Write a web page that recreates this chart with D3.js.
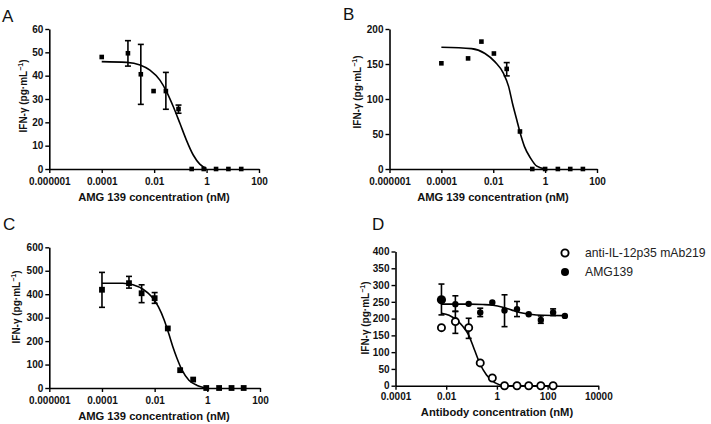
<!DOCTYPE html>
<html><head><meta charset="utf-8">
<script src="https://cdn.jsdelivr.net/npm/d3@7"></script>
<style>
body{margin:0;background:#fff}
svg{display:block}
text{font-family:"Liberation Sans",Arial,sans-serif}
</style>
</head><body>
<svg id="c" width="711" height="424"></svg>
<script>
// ---------------- data ----------------
const amgTicks = [1e-6, 1e-4, 1e-2, 1, 100];
const amgTickLabels = ["0.000001", "0.0001", "0.01", "1", "100"];
const abTicks = [1e-4, 1e-2, 1, 100, 1e4];
const abTickLabels = ["0.0001", "0.01", "1", "100", "10000"];

// Panel A
const concA = [0.0001, 0.001, 0.0031, 0.0095, 0.028, 0.085, 0.27, 0.78, 2.3, 6.8, 21];
const ifnA  = [48, 49.6, 40.6, 33.4, 33.4, 25.7, 0, 0, 0, 0, 0];
const errLoA = [null, 44.1, 27.7, null, 25.6, 23.9, null, null, null, null, null];
const errHiA = [null, 55.0, 53.4, null, 41.4, 27.4, null, null, null, null, null];
const fitXA = [0.0001, 0.00089, 0.0029, 0.0069, 0.0166, 0.030, 0.054, 0.096, 0.17, 0.31, 0.55, 1.0];
const fitYA = [46, 45.7, 44.6, 42.4, 38.1, 33.1, 26.7, 19.6, 12.4, 6.0, 2.1, 0.2];

// Panel B
const concB = [0.0001, 0.00107, 0.0035, 0.0106, 0.033, 0.107, 0.32, 1.0, 3.1, 9.3, 28.6];
const ifnB  = [151, 158, 182, 165, 143, 53.6, 0, 0, 0, 0, 0];
const errLoB = [null, null, null, null, 133, null, null, null, null, null, null];
const errHiB = [null, null, null, null, 152, null, null, null, null, null, null];
const fitXB = [0.0001, 0.00145, 0.0048, 0.0117, 0.0245, 0.039, 0.055, 0.081, 0.11, 0.16, 0.27, 0.48, 1.0];
const fitYB = [174, 172, 165, 153, 137, 118, 94, 70, 51, 32, 16, 4, 0];

// Panel C
const concC = [0.0001, 0.00106, 0.0032, 0.01, 0.0316, 0.093, 0.29, 0.91, 2.8, 8.3, 24];
const ifnC  = [419, 447, 404, 383, 254, 76, 36, 0, 0, 0, 0];
const errLoC = [344, 426, 364, 361, null, null, null, null, null, null, null];
const errHiC = [493, 476, 440, 407, null, null, null, null, null, null, null];
const fitXC = [0.0001, 0.00062, 0.0015, 0.0036, 0.0076, 0.0138, 0.023, 0.034, 0.049, 0.071, 0.11, 0.20, 0.41, 0.87];
const fitYC = [447, 447, 440, 421, 390, 347, 290, 233, 176, 126, 76, 33, 11, 0];

// Panel D
const concD = [0.0065, 0.023, 0.077, 0.22, 0.66, 2.0, 6.2, 18, 54, 165, 480];
const mab219 = [173, 191, 173, 68, 23, 0, 0, 0, 0, 0];
const errLoMab = [null, 156, 141, null, null, null, null, null, null, null];
const errHiMab = [null, 222, 201, null, null, null, null, null, null, null];
const amg139 = [256, 243, 244, 218, 248, 224, 228, 213, 196, 218, 208];
const errLoAmg = [211, 221, null, 206, null, 176, 206, null, 186, 209, null];
const errHiAmg = [303, 268, null, 231, null, 271, 251, null, 208, 229, null];
const fitXMab = [0.0065, 0.013, 0.025, 0.045, 0.077, 0.13, 0.21, 0.39, 0.82, 2.0, 165];
const fitYMab = [216, 210, 196, 177, 151, 107, 67, 32, 9, 0, 0];
const fitXAmg = [0.0065, 0.077, 0.28, 0.7, 1.7, 3.7, 7.9, 20, 66, 480];
const fitYAmg = [243, 243, 242, 240, 234, 226, 218, 213, 210, 209];

const legendNames = ["anti-IL-12p35 mAb219", "AMG139"];

// ---------------- drawing ----------------
const svg = d3.select("#c");
const BOLD = "bold";

function makeAxes(g, x, y, cfg) {
  const xa = d3.axisBottom(x).tickValues(cfg.xTicks)
    .tickFormat((d, i) => cfg.xTickLabels[i]).tickSize(4).tickSizeOuter(0).tickPadding(cfg.xPad);
  const ya = d3.axisLeft(y).tickValues(cfg.yTicks).tickSize(4).tickSizeOuter(0).tickPadding(2)
    .tickFormat(d3.format("d"));
  const gx = g.append("g").attr("transform", `translate(0,${y(0)})`).call(xa);
  const gy = g.append("g").attr("transform", `translate(${x.range()[0]},0)`).call(ya);
  [gx, gy].forEach(a => {
    a.select(".domain").attr("stroke", "#000").attr("stroke-width", 1.6);
    a.selectAll(".tick line").attr("stroke", "#000").attr("stroke-width", 1.4);
    a.selectAll(".tick text").attr("fill", "#111").attr("font-size", 10).attr("font-weight", BOLD)
      .attr("font-family", '"Liberation Sans",Arial,sans-serif');
  });
  g.append("text").attr("x", cfg.xTitleX).attr("y", cfg.xTitleY)
    .attr("text-anchor", "middle").attr("font-size", 11.2).attr("font-weight", BOLD).attr("fill", "#111")
    .text(cfg.xTitle);
  const yt = g.append("text")
    .attr("transform", `translate(${cfg.yTitleX},${cfg.yTitleY}) rotate(-90)`)
    .attr("text-anchor", "middle").attr("font-size", 10).attr("font-weight", BOLD).attr("fill", "#111");
  yt.append("tspan").text("IFN-γ (pg·mL");
  yt.append("tspan").attr("dy", -4).attr("font-size", 7).text("−1");
  yt.append("tspan").attr("dy", 4).text(")");
  svg.append("text").attr("x", cfg.letterX).attr("y", cfg.letterY)
    .attr("font-family", '"Open Sans","Noto Sans",sans-serif').attr("font-size", 17).attr("fill", "#111")
    .text(cfg.letter);
}

function errorBars(g, x, y, xs, lo, hi, cap) {
  xs.forEach((c, i) => {
    if (lo[i] == null) return;
    const px = x(c);
    g.append("line").attr("x1", px).attr("x2", px).attr("y1", y(lo[i])).attr("y2", y(hi[i]))
      .attr("stroke", "#000").attr("stroke-width", 1.6);
    [lo[i], hi[i]].forEach(v => g.append("line").attr("x1", px - cap).attr("x2", px + cap)
      .attr("y1", y(v)).attr("y2", y(v)).attr("stroke", "#000").attr("stroke-width", 1.6));
  });
}

function fitLine(g, x, y, fx, fy) {
  const line = d3.line().x(d => x(d[0])).y(d => y(d[1])).curve(d3.curveMonotoneX);
  g.append("path").datum(fx.map((v, i) => [v, fy[i]])).attr("d", line)
    .attr("fill", "none").attr("stroke", "#000").attr("stroke-width", 1.6);
}

function squares(g, x, y, xs, ys, s) {
  g.selectAll(null).data(xs.map((v, i) => [v, ys[i]])).enter().append("rect")
    .attr("x", d => x(d[0]) - s / 2).attr("y", d => y(d[1]) - s / 2)
    .attr("width", s).attr("height", s).attr("fill", "#000");
}

function squarePanel(cfg) {
  const g = svg.append("g");
  const x = d3.scaleLog().domain([1e-6, 100]).range(cfg.xRange);
  const y = d3.scaleLinear().domain(cfg.yDomain).range(cfg.yRange);
  errorBars(g, x, y, cfg.conc, cfg.lo, cfg.hi, 3);
  fitLine(g, x, y, cfg.fitX, cfg.fitY);
  makeAxes(g, x, y, cfg);
  squares(g, x, y, cfg.conc, cfg.vals, cfg.size);
}

squarePanel({
  letter: "A", letterX: 2, letterY: 22,
  xRange: [49.3, 259], yDomain: [0, 60], yRange: [169, 29], yTicks: d3.range(0, 61, 10),
  xTicks: amgTicks, xTickLabels: amgTickLabels, xPad: 5,
  xTitle: "AMG 139 concentration (nM)", xTitleX: 154, xTitleY: 200.5,
  yTitleX: 26.5, yTitleY: 96,
  conc: concA, vals: ifnA, lo: errLoA, hi: errHiA, fitX: fitXA, fitY: fitYA, size: 4.6
});
squarePanel({
  letter: "B", letterX: 343, letterY: 20,
  xRange: [389.5, 597], yDomain: [0, 200], yRange: [169, 29], yTicks: d3.range(0, 201, 50),
  xTicks: amgTicks, xTickLabels: amgTickLabels, xPad: 5,
  xTitle: "AMG 139 concentration (nM)", xTitleX: 493, xTitleY: 200.5,
  yTitleX: 361, yTitleY: 92,
  conc: concB, vals: ifnB, lo: errLoB, hi: errHiB, fitX: fitXB, fitY: fitYB, size: 4.6
});
squarePanel({
  letter: "C", letterX: 3, letterY: 230,
  xRange: [49.3, 260], yDomain: [0, 600], yRange: [388, 247.3], yTicks: d3.range(0, 601, 100),
  xTicks: amgTicks, xTickLabels: amgTickLabels, xPad: 5,
  xTitle: "AMG 139 concentration (nM)", xTitleX: 154, xTitleY: 420,
  yTitleX: 19.5, yTitleY: 307,
  conc: concC, vals: ifnC, lo: errLoC, hi: errHiC, fitX: fitXC, fitY: fitYC, size: 5.8
});

// Panel D
(function () {
  const cfg = {
    letter: "D", letterX: 372, letterY: 230,
    yTicks: d3.range(0, 401, 50), xTicks: abTicks, xTickLabels: abTickLabels, xPad: 3,
    xTitle: "Antibody concentration (nM)", xTitleX: 497, xTitleY: 415.5,
    yTitleX: 369, yTitleY: 318
  };
  const g = svg.append("g");
  const x = d3.scaleLog().domain([1e-4, 1e4]).range([395.5, 598.3]);
  const y = d3.scaleLinear().domain([0, 400]).range([385.7, 251.5]);
  errorBars(g, x, y, concD, errLoAmg, errHiAmg, 3);
  errorBars(g, x, y, concD.slice(0, mab219.length), errLoMab, errHiMab, 3);
  fitLine(g, x, y, fitXAmg, fitYAmg);
  fitLine(g, x, y, fitXMab, fitYMab);
  makeAxes(g, x, y, cfg);
  g.selectAll(null).data(amg139).enter().append("circle")
    .attr("cx", (d, i) => x(concD[i])).attr("cy", d => y(d))
    .attr("r", (d, i) => i === 0 ? 4.6 : 3.2).attr("fill", "#000");
  g.selectAll(null).data(mab219).enter().append("circle")
    .attr("cx", (d, i) => x(concD[i])).attr("cy", d => y(d))
    .attr("r", 3.6).attr("fill", "#fff").attr("stroke", "#000").attr("stroke-width", 1.8);
  const lg = svg.append("g");
  const ly = [253, 272];
  lg.append("circle").attr("cx", 565).attr("cy", ly[0]).attr("r", 3.6)
    .attr("fill", "#fff").attr("stroke", "#000").attr("stroke-width", 1.9);
  lg.append("circle").attr("cx", 565).attr("cy", ly[1]).attr("r", 4).attr("fill", "#000");
  legendNames.forEach((n, i) => lg.append("text").attr("x", 585).attr("y", ly[i] + 4.3)
    .attr("font-size", 12.2).attr("fill", "#222").text(n));
})();
</script>
</body></html>
